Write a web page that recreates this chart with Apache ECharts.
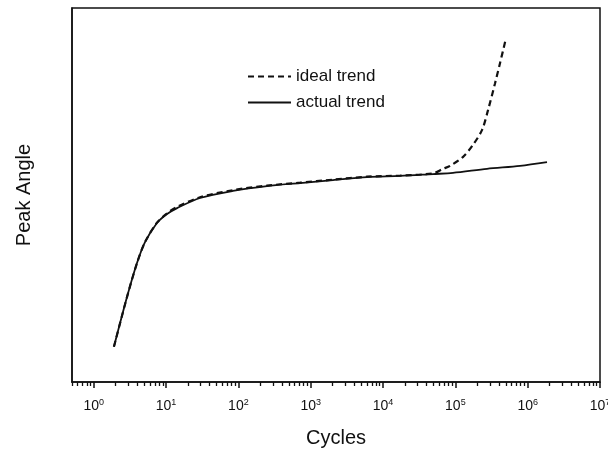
<!DOCTYPE html>
<html lang="en">
<head>
<meta charset="UTF-8">
<title>Peak Angle vs Cycles</title>
<script src="https://cdn.jsdelivr.net/npm/echarts@6/dist/echarts.min.js"></script>
<style>
  html, body { margin: 0; padding: 0; background: #fff; }
  #main { width: 608px; height: 450px; }
</style>
</head>
<body>
<div id="main"></div>
<script type="text/javascript">
// cycles (x) and peak angle in arbitrary units (y, 0..100 = plot height)
var actualX = [1.9, 2.88, 3.96, 5.11, 7.48, 10.3, 14.2, 29.4, 84, 248, 711, 2030, 6000, 17200, 49100, 92700, 274000, 784000, 1850000];
var actualY = [9.4, 22.7, 31.8, 37.4, 42.5, 44.9, 46.5, 49.2, 51.1, 52.4, 53.2, 54.0, 54.8, 55.1, 55.6, 55.9, 57.0, 57.8, 58.8];

var idealX = [1.9, 2.88, 3.96, 5.11, 7.48, 10.3, 14.2, 29.4, 84, 248, 711, 2030, 6000, 17200, 49100, 67600, 84400, 128000, 175000, 234000, 283000, 354000, 415000, 502000];
var idealY = [9.4, 22.7, 31.8, 37.4, 42.6, 45.1, 46.8, 49.4, 51.3, 52.5, 53.3, 54.1, 54.9, 55.2, 55.8, 57.0, 57.8, 60.2, 63.4, 67.4, 72.7, 79.9, 85.3, 92.0];

var majorTicks = [1, 10, 100, 1000, 10000, 100000, 1000000, 10000000];
var minorTicks = [];
for (var d = -1; d < 7; d++) {
    for (var k = 2; k <= 9; k++) {
        var v = k * Math.pow(10, d);
        if (v >= 0.5) minorTicks.push(v);
    }
}

function pairs(xs, ys) {
    return xs.map(function (x, i) { return [x, ys[i]]; });
}

var font = "'Liberation Sans', Arial, Helvetica, sans-serif";
var chart = echarts.init(document.getElementById('main'));

var option = {
    animation: false,
    backgroundColor: '#fff',
    grid: {
        left: 72, right: 8, top: 8, bottom: 68,
        outerBoundsMode: 'none',
        containLabel: false,
        show: true, borderColor: '#111', borderWidth: 1.5
    },
    legend: {
        orient: 'vertical',
        left: 242, top: 63,
        itemWidth: 43, itemHeight: 14, itemGap: 9,
        itemStyle: { opacity: 0 },
        textStyle: { fontFamily: font, fontSize: 17, color: '#111' },
        data: ['ideal trend', 'actual trend']
    },
    xAxis: [{
        type: 'log',
        min: 0.5, max: 10000000,
        name: 'Cycles',
        nameLocation: 'middle',
        nameGap: 46,
        nameTextStyle: { fontFamily: font, fontSize: 20, color: '#111' },
        axisLine: { show: true, lineStyle: { color: '#111', width: 1.5 } },
        axisTick: { show: true, customValues: majorTicks, length: 6, lineStyle: { color: '#111', width: 1.5 } },
        splitLine: { show: false },
        axisLabel: {
            customValues: majorTicks,
            margin: 16,
            formatter: function (v) {
                return '{b|10}{s|' + Math.round(Math.log10(v)) + '}';
            },
            rich: {
                b: { fontFamily: font, fontSize: 14, color: '#111', lineHeight: 16 },
                s: { fontFamily: font, fontSize: 9, color: '#111', verticalAlign: 'top', lineHeight: 16 }
            }
        }
    }, {
        type: 'log',
        min: 0.5, max: 10000000,
        position: 'bottom',
        axisLine: { show: false },
        axisTick: { show: true, customValues: minorTicks, length: 4, lineStyle: { color: '#111', width: 1.3 } },
        axisLabel: { show: false },
        splitLine: { show: false }
    }],
    yAxis: {
        type: 'value',
        min: 0, max: 100,
        name: 'Peak Angle',
        nameLocation: 'middle',
        nameGap: 38,
        nameTextStyle: { fontFamily: font, fontSize: 20, color: '#111' },
        axisLine: { show: true, lineStyle: { color: '#111', width: 1.5 } },
        axisTick: { show: false },
        axisLabel: { show: false },
        splitLine: { show: false }
    },
    series: [{
        name: 'ideal trend',
        type: 'line',
        xAxisIndex: 0,
        data: pairs(idealX, idealY),
        symbol: 'none',
        smooth: 0.3,
        lineStyle: { color: '#111', width: 2.2, type: [6, 4] },
        itemStyle: { color: '#111' }
    }, {
        name: 'actual trend',
        type: 'line',
        xAxisIndex: 0,
        data: pairs(actualX, actualY),
        symbol: 'none',
        smooth: 0.3,
        lineStyle: { color: '#111', width: 1.8 },
        itemStyle: { color: '#111' }
    }]
};

chart.setOption(option);
</script>
</body>
</html>
